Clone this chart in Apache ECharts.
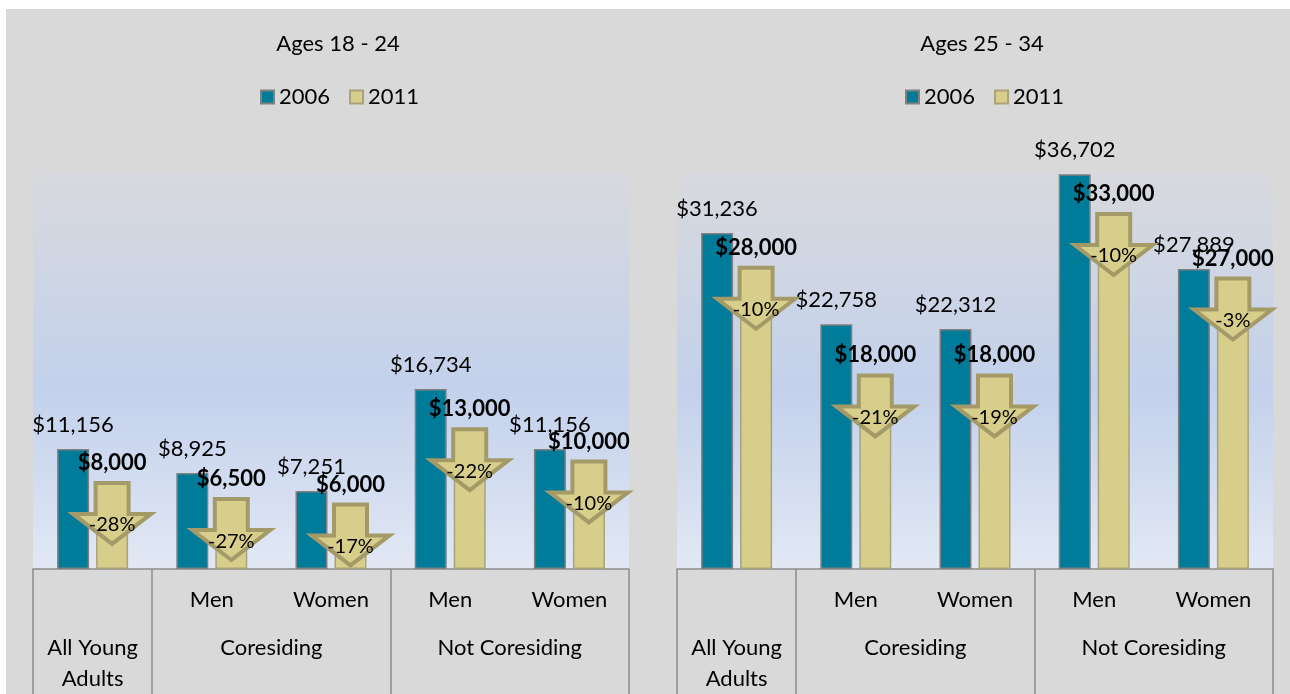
<!DOCTYPE html>
<html><head><meta charset="utf-8">
<script src="https://cdn.jsdelivr.net/npm/echarts@6.0.0/dist/echarts.min.js"></script>
<style>
html,body{margin:0;padding:0;background:#fff;}
#bg{position:absolute;left:6px;top:9px;width:1284px;height:685px;background:#d9d9d9;}
#chart{position:absolute;left:0;top:0;width:1290px;height:694px;}
</style></head><body>
<div id="bg"></div><div id="chart"></div>
<script>
// ---- data ----
const panelTitles = ['Ages 18 - 24', 'Ages 25 - 34'];
const seriesNames = ['2006', '2011'];
const subCategories = ['', 'Men', 'Women', 'Men', 'Women'];
const groupLabels = ['All Young\nAdults', 'Coresiding', 'Not Coresiding'];
const groupSpans = [1, 2, 2];
const young2006 = [11156, 8925, 7251, 16734, 11156];
const young2011 = [8000, 6500, 6000, 13000, 10000];
const youngChange = ['-28%', '-27%', '-17%', '-22%', '-10%'];
const older2006 = [31236, 22758, 22312, 36702, 27889];
const older2011 = [28000, 18000, 18000, 33000, 27000];
const olderChange = ['-10%', '-21%', '-19%', '-10%', '-3%'];

// ---- layout/style ----
const FONT = 'Lato, "Open Sans", sans-serif';
const FS = 22;
const BLUE = '#007b9a', TAN = '#d8ce8b';
const BAR_W = 32, BAR_GAP_PX = 7;
const OFFSET = (BAR_W + BAR_GAP_PX) / 2;
const panels = [
  {left: 33, titleX: 333, legendLeft: 255, v2006: young2006, v2011: young2011, change: youngChange},
  {left: 677, titleX: 977, legendLeft: 900, v2006: older2006, v2011: older2011, change: olderChange}
];

// group label centres and boundaries from spans
const groupCenters = [], groupBounds = [-0.5];
let start = 0;
groupSpans.forEach(s => { groupCenters.push(start + (s - 1) / 2); start += s; groupBounds.push(start - 0.5); });
const groupMap = {};
groupCenters.forEach((c, i) => groupMap[c.toFixed(2)] = groupLabels[i]);

const money = v => '$' + v.toLocaleString('en-US');
const gridBg = {type: 'linear', x: 0, y: 0, x2: 0, y2: 1, colorStops: [
  {offset: 0, color: '#d8d9dd'}, {offset: 0.55, color: '#c3d1ec'}, {offset: 1, color: '#e2e8f4'}]};

function arrowRender(changes) {
  return function (params, api) {
    const i = api.value(0), v = api.value(1);
    const p = api.coord([i, v]);
    const cx = p[0] + OFFSET, top = p[1];
    const pts = [[cx - 16.5, top], [cx + 16.5, top], [cx + 16.5, top + 31], [cx + 39, top + 31],
                 [cx, top + 61], [cx - 39, top + 31], [cx - 16.5, top + 31]];
    return {type: 'group', children: [
      {type: 'polygon', shape: {points: pts}, style: {fill: TAN, stroke: '#a39a68', lineWidth: 4, lineJoin: 'miter'}},
      {type: 'text', style: {text: changes[i], x: cx, y: top + 42, align: 'center', verticalAlign: 'middle',
        fontSize: 20, fontFamily: FONT, fill: '#000'}}
    ]};
  };
}

const option = {
  animation: false,
  backgroundColor: 'transparent',
  title: panels.map((p, k) => ({text: panelTitles[k], left: p.titleX, top: 28, textAlign: 'center',
    textStyle: {fontSize: FS, fontWeight: 'normal', color: '#000', fontFamily: FONT}})),
  legend: panels.map(p => ({data: seriesNames, left: p.legendLeft, top: 81, icon: 'rect', itemWidth: 13, itemHeight: 13,
    itemGap: 19, textStyle: {fontSize: FS, color: '#000', fontFamily: FONT}})),
  grid: panels.map(p => ({left: p.left, top: 171, width: 596, height: 400, show: true, backgroundColor: gridBg, borderWidth: 0})),
  xAxis: [].concat(...panels.map((p, k) => [
    {type: 'category', gridIndex: k, data: subCategories, position: 'bottom',
      axisLine: {show: true, lineStyle: {color: '#8c8c8c', width: 1.5}}, axisTick: {show: false},
      axisLabel: {interval: 0, margin: 20, fontSize: FS, color: '#000', fontFamily: FONT}},
    {type: 'value', gridIndex: k, min: -0.5, max: 4.5, position: 'bottom', splitLine: {show: false},
      axisLine: {show: false},
      axisTick: {show: true, customValues: groupBounds, length: 130, lineStyle: {color: '#8c8c8c', width: 1.5}},
      axisLabel: {customValues: groupCenters, margin: 63, fontSize: FS, lineHeight: 31, color: '#000', fontFamily: FONT,
        formatter: v => groupMap[Number(v).toFixed(2)] || ''}}
  ])),
  yAxis: panels.map((p, k) => ({type: 'value', gridIndex: k, min: 0, max: 37000, show: false})),
  series: [].concat(...panels.map((p, k) => [
    {name: seriesNames[0], type: 'bar', xAxisIndex: 2 * k, yAxisIndex: k, data: p.v2006, barWidth: BAR_W,
      barGap: (BAR_GAP_PX / BAR_W * 100) + '%',
      itemStyle: {color: BLUE, borderColor: '#808080', borderWidth: 1.5},
      label: {show: true, position: 'top', distance: 13, fontSize: FS, color: '#000', fontFamily: FONT,
        formatter: d => money(d.value)}},
    {name: seriesNames[1], type: 'bar', xAxisIndex: 2 * k, yAxisIndex: k, data: p.v2011, barWidth: BAR_W,
      barGap: (BAR_GAP_PX / BAR_W * 100) + '%',
      itemStyle: {color: TAN, borderColor: '#a9a27a', borderWidth: 1.5},
      label: {show: true, position: 'top', distance: 9, fontSize: FS, fontWeight: 'bold', color: '#000', fontFamily: FONT,
        formatter: d => money(d.value)}},
    {name: 'change', type: 'custom', xAxisIndex: 2 * k, yAxisIndex: k, clip: false, z: 5,
      data: p.v2011.map((v, i) => [i, v]), encode: {x: 0, y: 1}, renderItem: arrowRender(p.change)}
  ]))
};
const chart = echarts.init(document.getElementById('chart'), null, {renderer: 'canvas'});
chart.setOption(option);
</script>
</body></html>
